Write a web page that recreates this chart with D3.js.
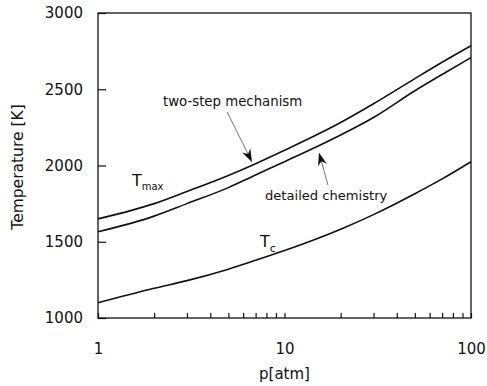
<!DOCTYPE html>
<html>
<head>
<meta charset="utf-8">
<script src="https://cdn.jsdelivr.net/npm/d3@7"></script>
<style>
  body { margin: 0; background: #fff; }
  text { font-family: "DejaVu Sans", sans-serif; fill: #111; }
</style>
</head>
<body>
<script>
// Chart size and plot margins
const width = 487, height = 386;
const margin = { top: 13, right: 16, bottom: 68, left: 98 };

// Data
const pressure = [1, 2, 3, 5, 7, 10, 20, 30, 50, 70, 100];
const twoStep = [1650, 1750, 1830, 1935, 2012, 2100, 2282, 2405, 2570, 2677, 2785];
const detailed = [1565, 1668, 1750, 1855, 1938, 2025, 2200, 2315, 2490, 2597, 2708];
const tCore = [1100, 1195, 1245, 1320, 1378, 1442, 1582, 1678, 1815, 1912, 2025];

const xTicks = [1, 2, 3, 4, 5, 6, 7, 8, 9, 10, 20, 30, 40, 50, 60, 70, 80, 90, 100];
const xLabels = [1, 10, 100];
const yTicks = [1000, 1500, 2000, 2500, 3000];

const svg = d3.select("body")
    .append("svg")
    .attr("width", width)
    .attr("height", height);

const x = d3.scaleLog()
    .domain([1, 100])
    .range([margin.left, width - margin.right]);

const y = d3.scaleLinear()
    .domain([1000, 3000])
    .range([height - margin.bottom, margin.top]);

// x axis: small inward ticks, labels only at decades
const xAxis = svg.append("g")
    .attr("transform", `translate(0,${height - margin.bottom})`)
    .call(d3.axisBottom(x)
        .tickValues(xTicks)
        .tickSize(-5)
        .tickFormat(d => xLabels.includes(d) ? d : ""));
xAxis.select(".domain").remove();
xAxis.selectAll("line").attr("stroke", "#111").attr("stroke-width", 1.2);
xAxis.selectAll("text")
    .attr("y", 25)
    .attr("font-size", "15px")
    .attr("font-family", "DejaVu Sans, sans-serif")
    .attr("fill", "#111");

// y axis: longer inward ticks
const yAxis = svg.append("g")
    .attr("transform", `translate(${margin.left},0)`)
    .call(d3.axisLeft(y)
        .tickValues(yTicks)
        .tickSize(-8)
        .tickPadding(15)
        .tickFormat(d3.format("d")));
yAxis.select(".domain").remove();
yAxis.selectAll("line").attr("stroke", "#111").attr("stroke-width", 1.2);
yAxis.selectAll("text")
    .attr("font-size", "15px")
    .attr("font-family", "DejaVu Sans, sans-serif")
    .attr("fill", "#111");

// frame
svg.append("rect")
    .attr("x", margin.left)
    .attr("y", margin.top)
    .attr("width", width - margin.left - margin.right)
    .attr("height", height - margin.top - margin.bottom)
    .attr("fill", "none")
    .attr("stroke", "#111")
    .attr("stroke-width", 1.3);

// axis titles
svg.append("text")
    .attr("x", (margin.left + width - margin.right) / 2)
    .attr("y", 379)
    .attr("text-anchor", "middle")
    .attr("font-size", "15px")
    .text("p[atm]");

svg.append("text")
    .attr("transform", "translate(23,167) rotate(-90)")
    .attr("text-anchor", "middle")
    .attr("font-size", "15.5px")
    .text("Temperature [K]");

// curves
const line = d3.line()
    .x(d => x(d[0]))
    .y(d => y(d[1]))
    .curve(d3.curveMonotoneX);

[twoStep, detailed, tCore].forEach(series => {
    svg.append("path")
        .datum(pressure.map((p, i) => [p, series[i]]))
        .attr("fill", "none")
        .attr("stroke", "#111")
        .attr("stroke-width", 1.6)
        .attr("d", line);
});

// annotations (placed in data coordinates)
function label(p, t, txt, size) {
    return svg.append("text")
        .attr("x", x(p))
        .attr("y", y(t))
        .attr("font-size", size)
        .text(txt);
}

label(2.23, 2390, "two-step mechanism", "13.3px");
label(7.86, 1774, "detailed chemistry", "13.1px");

const tmax = label(1.52, 1866, "T", "16px");
tmax.append("tspan").attr("font-size", "10px").attr("dy", 4).text("max");

const tc = label(7.39, 1466, "T", "16px");
tc.append("tspan").attr("font-size", "11px").attr("dy", 5).text("c");

// arrows: thin shaft and filled head
function arrow(from, to) {
    const x0 = x(from[0]), y0 = y(from[1]);
    const x1 = x(to[0]), y1 = y(to[1]);
    const a = Math.atan2(y1 - y0, x1 - x0);
    const len = 13, half = 4.5;
    const bx = x1 - len * Math.cos(a), by = y1 - len * Math.sin(a);
    const nx = -Math.sin(a), ny = Math.cos(a);
    const notchX = x1 - len * 0.7 * Math.cos(a), notchY = y1 - len * 0.7 * Math.sin(a);

    svg.append("line")
        .attr("x1", x0).attr("y1", y0)
        .attr("x2", notchX).attr("y2", notchY)
        .attr("stroke", "#333")
        .attr("stroke-width", 0.7);

    svg.append("path")
        .attr("d", `M${x1},${y1} L${bx + nx * half},${by + ny * half} L${notchX},${notchY} L${bx - nx * half},${by - ny * half} Z`)
        .attr("fill", "#111");
}

arrow([4.92, 2351], [6.7, 2022]);
arrow([17.1, 1872], [15.3, 2085]);
</script>
</body>
</html>
